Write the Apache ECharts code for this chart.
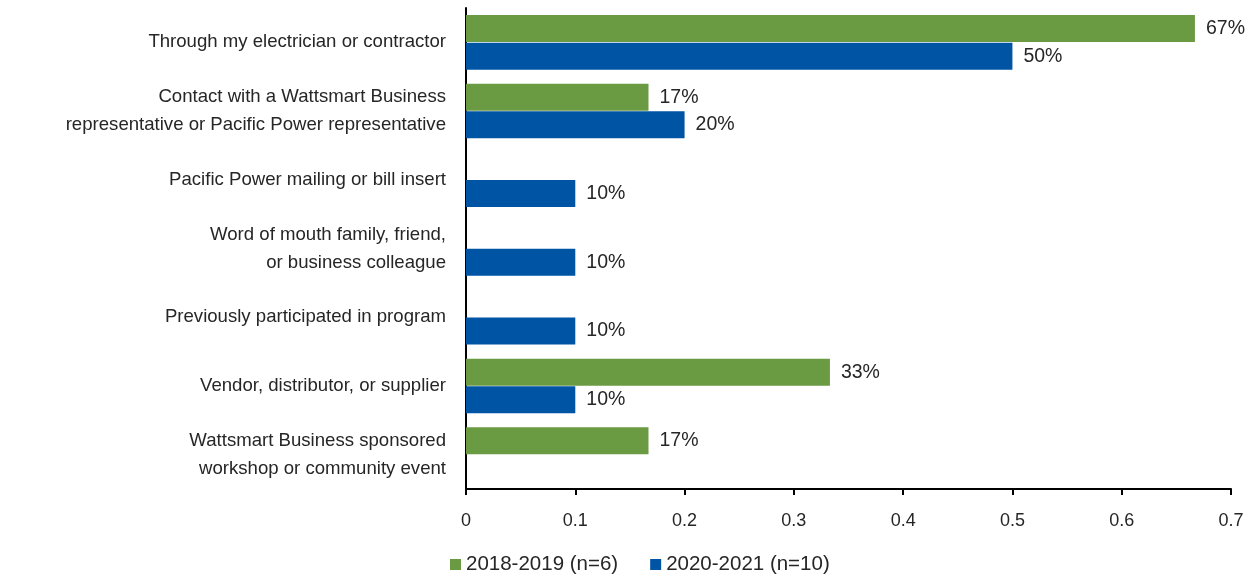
<!DOCTYPE html>
<html>
<head>
<meta charset="utf-8">
<script src="https://cdn.jsdelivr.net/npm/echarts@6/dist/echarts.min.js"></script>
<style>
  html, body { margin: 0; padding: 0; background: #fff; }
  #chart { width: 1257px; height: 581px; }
</style>
</head>
<body>
<div id="chart"></div>
<script>
const categories = [
  "Through my electrician or contractor",
  "Contact with a Wattsmart Business\nrepresentative or Pacific Power representative",
  "Pacific Power mailing or bill insert",
  "Word of mouth family, friend,\nor business colleague",
  "Previously participated in program",
  "Vendor, distributor, or supplier",
  "Wattsmart Business sponsored\nworkshop or community event"
];
const seriesNames = ["2018-2019 (n=6)", "2020-2021 (n=10)"];
const values2018 = [0.667, 0.167, null, null, null, 0.333, 0.167];
const values2020 = [0.5, 0.2, 0.1, 0.1, 0.1, 0.1, null];
const xTicks = [0, 0.1, 0.2, 0.3, 0.4, 0.5, 0.6, 0.7];

const font = "Liberation Sans";
const textColor = "#262626";

const chart = echarts.init(document.getElementById("chart"));

// value labels as rounded percents
const pctLabel = {
  show: true,
  position: "right",
  distance: 11,
  fontFamily: font,
  fontSize: 19.5,
  color: textColor,
  formatter: function (p) {
    return Math.round(p.value * 100) + "%";
  }
};

chart.setOption({
  animation: false,
  grid: { left: 466, right: 26, top: 8, bottom: 92, containLabel: false },
  legend: {
    bottom: 1,
    left: 445,
    itemWidth: 11,
    itemHeight: 11,
    itemGap: 32,
    icon: "rect",
    textStyle: { fontFamily: font, fontSize: 20.5, color: textColor },
    data: seriesNames
  },
  xAxis: {
    type: "value",
    min: 0,
    max: 0.7,
    interval: 0.1,
    axisLine: { show: true, lineStyle: { color: "#000", width: 2 } },
    axisTick: { show: true, length: 6, lineStyle: { color: "#000", width: 2 } },
    splitLine: { show: false },
    axisLabel: {
      margin: 23,
      fontFamily: font,
      fontSize: 18,
      color: textColor,
      formatter: function (v) {
        const t = xTicks.find(function (x) { return Math.abs(x - v) < 1e-9; });
        return t === undefined ? "" : String(t);
      }
    }
  },
  yAxis: {
    type: "category",
    inverse: true,
    data: categories,
    axisLine: { show: true, lineStyle: { color: "#000", width: 2 } },
    axisTick: { show: false },
    axisLabel: {
      margin: 20,
      fontFamily: font,
      fontSize: 18.6,
      lineHeight: 28,
      color: textColor,
      align: "right"
    }
  },
  series: [
    {
      name: seriesNames[0],
      type: "bar",
      data: values2018,
      barWidth: 27,
      barGap: "2%",
      itemStyle: { color: "#6A9A42" },
      label: pctLabel
    },
    {
      name: seriesNames[1],
      type: "bar",
      data: values2020,
      barWidth: 27,
      itemStyle: { color: "#0054A4" },
      label: pctLabel
    }
  ]
});
</script>
</body>
</html>
